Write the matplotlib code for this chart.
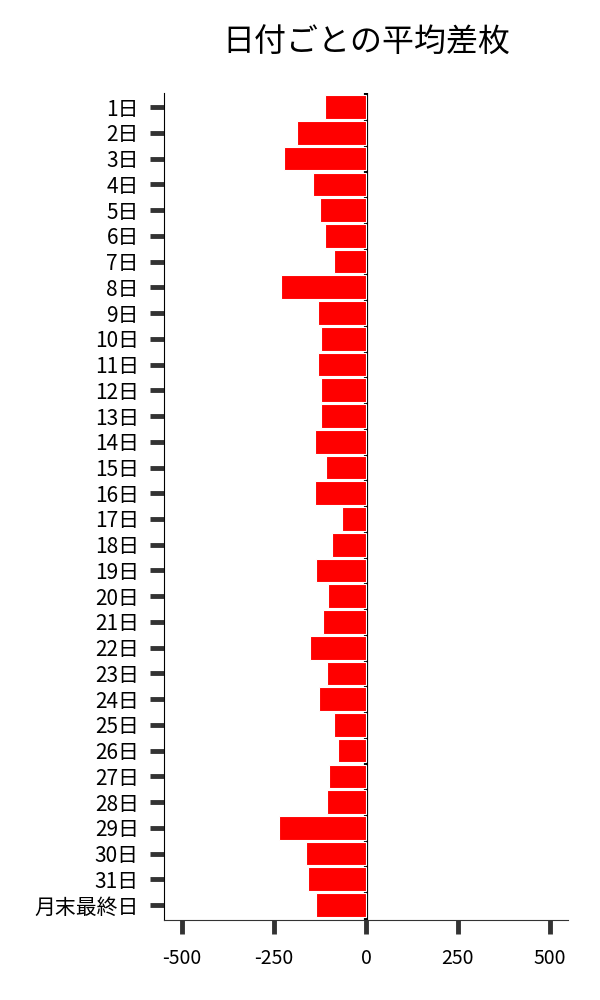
import matplotlib
matplotlib.use("Agg")
import matplotlib.pyplot as plt

plt.rcParams['font.family'] = ['Noto Sans CJK JP', 'DejaVu Sans']

days = [f"{i}日" for i in range(1, 32)] + ["月末最終日"]
values = [-111, -189, -222, -143, -124, -111, -86, -230, -130, -122,
          -130, -122, -122, -138, -108, -138, -65, -92, -135, -103,
          -116, -151, -105, -127, -86, -76, -100, -105, -238, -162,
          -157, -135]
xticks = [-500, -250, 0, 250, 500]
title = "日付ごとの平均差枚"

fig = plt.figure(figsize=(6, 10), dpi=100)
ax = fig.add_axes([0.273, 0.08, 0.674, 0.827])

pos = list(range(len(days)))
ax.barh(pos, values, height=0.92, color="red", edgecolor="white", linewidth=0.8, zorder=2)
ax.axvline(0, color="black", linewidth=3, zorder=1)

ax.set_yticks(pos)
ax.set_yticklabels(days, fontsize=15)
ax.set_ylim(len(days) - 0.42, -0.55)
ax.set_xlim(-550, 550)
ax.set_xticks(xticks)
ax.set_xticklabels([str(v) for v in xticks], fontsize=14)

ax.tick_params(axis="both", direction="out", length=10, width=3.5, color="#333333", pad=8)
ax.tick_params(axis="x", pad=10)

ax.spines["top"].set_visible(False)
ax.spines["right"].set_visible(False)
ax.spines["left"].set_color("black")
ax.spines["bottom"].set_color("#333333")

fig.text(0.61, 0.957, title, ha="center", va="center", fontsize=23)

fig.savefig("out.png", dpi=100)
